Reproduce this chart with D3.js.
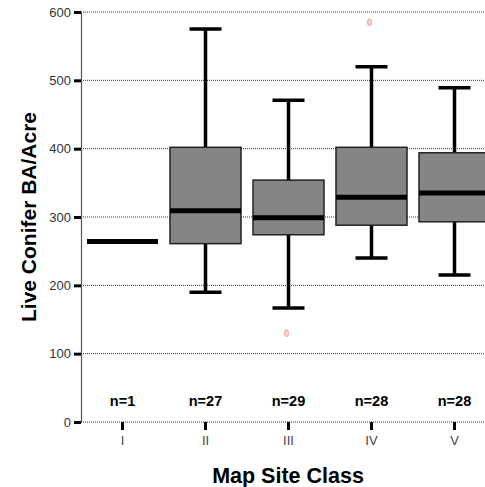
<!DOCTYPE html>
<html>
<head>
<meta charset="utf-8">
<script src="https://cdn.jsdelivr.net/npm/d3@7"></script>
<style>
  body { margin: 0; background: #fff; }
  svg { display: block; font-family: 'Liberation Sans', Arial, sans-serif; }
</style>
</head>
<body>
<div id="chart"></div>
<script>
// Box plot data
const classes = ['I', 'II', 'III', 'IV', 'V'];
const lowWhisker = [null, 190, 167, 240, 215];
const q1 = [null, 261, 274, 288, 293];
const median = [264, 309, 299, 329, 335];
const q3 = [null, 402, 354, 402, 394];
const highWhisker = [null, 575, 471, 520, 489];
const counts = [1, 27, 29, 28, 28];
const outliers = [[], [], [130], [585], []];
const yTicks = [0, 100, 200, 300, 400, 500, 600];

const data = classes.map((c, i) => ({
    cls: c, lo: lowWhisker[i], q1: q1[i], med: median[i], q3: q3[i],
    hi: highWhisker[i], n: counts[i], out: outliers[i]
}));

const W = 485, H = 487;
const margin = { left: 81, top: 12, bottom: 65 };
const plotW = 415;

const svg = d3.select('#chart').append('svg')
    .attr('width', W)
    .attr('height', H);

const x = d3.scaleBand()
    .domain(classes)
    .range([margin.left, margin.left + plotW]);

const y = d3.scaleLinear()
    .domain([0, 600])
    .range([H - margin.bottom, margin.top]);

const bw = x.bandwidth();

// Dotted grid lines
svg.append('g')
    .selectAll('line')
    .data(yTicks)
    .enter()
    .append('line')
    .attr('x1', margin.left)
    .attr('x2', W)
    .attr('y1', d => y(d))
    .attr('y2', d => y(d))
    .attr('stroke', '#333')
    .attr('stroke-width', 1)
    .attr('stroke-dasharray', '1,1');

// Y axis
const yAxis = svg.append('g')
    .attr('transform', `translate(${margin.left},0)`)
    .call(d3.axisLeft(y).tickValues(yTicks).tickSize(7).tickPadding(3));
yAxis.select('.domain').attr('stroke', '#555').attr('stroke-width', 1.2);
yAxis.selectAll('.tick line').attr('stroke', '#000').attr('stroke-width', 3);
yAxis.selectAll('.tick text')
    .style('font-size', '13px')
    .style('fill', '#333')
    .style('font-family', "'Liberation Sans', Arial, sans-serif");

// X axis
const xAxis = svg.append('g')
    .attr('transform', `translate(0,${y(0)})`)
    .call(d3.axisBottom(x).tickSize(8).tickPadding(6));
xAxis.select('.domain').remove();
xAxis.selectAll('.tick line').attr('stroke', '#000').attr('stroke-width', 3);
xAxis.selectAll('.tick text')
    .style('font-size', '13px')
    .style('fill', '#444')
    .style('font-family', "'Liberation Sans', Arial, sans-serif");

const boxes = svg.append('g')
    .selectAll('g')
    .data(data)
    .enter()
    .append('g')
    .attr('transform', d => `translate(${x(d.cls) + bw / 2},0)`);

const withBox = boxes.filter(d => d.q1 !== null);
const boxW = 71, capW = 32;

// Whiskers
withBox.append('line')
    .attr('x1', 0).attr('x2', 0)
    .attr('y1', d => y(d.hi)).attr('y2', d => y(d.lo))
    .attr('stroke', '#000').attr('stroke-width', 3.5);
withBox.selectAll('.cap')
    .data(d => [d.lo, d.hi])
    .enter()
    .append('line')
    .attr('class', 'cap')
    .attr('x1', -capW / 2).attr('x2', capW / 2)
    .attr('y1', v => y(v)).attr('y2', v => y(v))
    .attr('stroke', '#000').attr('stroke-width', 3.5);

// Boxes
withBox.append('rect')
    .attr('x', -boxW / 2)
    .attr('width', boxW)
    .attr('y', d => y(d.q3))
    .attr('height', d => y(d.q1) - y(d.q3))
    .attr('fill', '#858585')
    .attr('stroke', '#222')
    .attr('stroke-width', 1.5);

// Medians
boxes.append('line')
    .attr('x1', -boxW / 2).attr('x2', boxW / 2)
    .attr('y1', d => y(d.med)).attr('y2', d => y(d.med))
    .attr('stroke', '#000').attr('stroke-width', 5);

// Outliers
boxes.selectAll('.outlier')
    .data(d => d.out)
    .enter()
    .append('ellipse')
    .attr('class', 'outlier')
    .attr('cx', -2)
    .attr('cy', v => y(v))
    .attr('rx', 2)
    .attr('ry', 3.5)
    .attr('fill', '#fbd3d3')
    .attr('stroke', '#f4a0a0')
    .attr('stroke-width', 1);

// n labels
boxes.append('text')
    .attr('y', 406)
    .attr('text-anchor', 'middle')
    .style('font-size', '14.5px')
    .style('font-weight', 'bold')
    .text(d => 'n=' + d.n);

// Axis titles
svg.append('text')
    .attr('x', 288)
    .attr('y', 483)
    .attr('text-anchor', 'middle')
    .style('font-size', '21.5px')
    .style('font-weight', 'bold')
    .text('Map Site Class');

svg.append('text')
    .attr('transform', 'rotate(-90)')
    .attr('x', -217)
    .attr('y', 36)
    .attr('text-anchor', 'middle')
    .style('font-size', '21px')
    .style('font-weight', 'bold')
    .text('Live Conifer BA/Acre');
</script>
</body>
</html>
